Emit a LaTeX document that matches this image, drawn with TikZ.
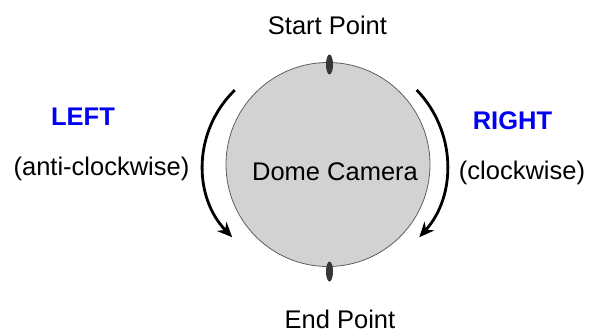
\documentclass[tikz,border=0pt]{standalone}
\usepackage{fontspec}
\setmainfont{Liberation Sans}
\usetikzlibrary{arrows.meta,shapes.geometric}
\definecolor{domegray}{RGB}{210,210,210}
\definecolor{rimgray}{RGB}{95,95,95}
\definecolor{markgray}{RGB}{55,55,55}
\definecolor{dirblue}{RGB}{0,0,245}
\tikzset{
  label text/.style={font=\fontsize{25.5}{30}\selectfont, inner sep=0pt, anchor=base},
  dir text/.style={label text, font=\fontsize{25.5}{30}\selectfont\bfseries, text=dirblue},
  turn arrow/.style={line width=2.8pt, -{Stealth[length=15pt,width=13pt]}},
  pin mark/.style={ellipse, draw=none, fill=markgray, minimum width=7pt, minimum height=20pt, inner sep=0pt},
}
\begin{document}
\begin{tikzpicture}[x=1pt,y=1pt]
  \useasboundingbox (0,0) rectangle (590,333);
  % dome body
  \node[circle, draw=rimgray, line width=0.8pt, fill=domegray, minimum size=204pt, inner sep=0pt] (dome) at (328,168.5) {};
  % start / end pins on the rim
  \node[pin mark] (top) at (329.5,268.5) {};
  \node[pin mark] (bottom) at (329.5,61.5) {};
  % rotation arrows
  \draw[turn arrow] (307,168) ++(134:104) arc[start angle=134, end angle=224, radius=104];
  \draw[turn arrow] (339,168) ++(44:108) arc[start angle=44, end angle=-42, radius=108];
  % labels
  \node[label text] (camera) at (335,153) {Dome Camera};
  \node[label text] (start) at (327.5,298.7) {Start Point};
  \node[label text] (end) at (340,5) {End Point};
  \node[dir text] (left) at (83,208) {LEFT};
  \node[dir text] (right) at (512.5,204) {RIGHT};
  \node[label text] (ccw) at (101.5,158) {(anti-clockwise)};
  \node[label text] (cw) at (522,154) {(clockwise)};
\end{tikzpicture}
\end{document}
